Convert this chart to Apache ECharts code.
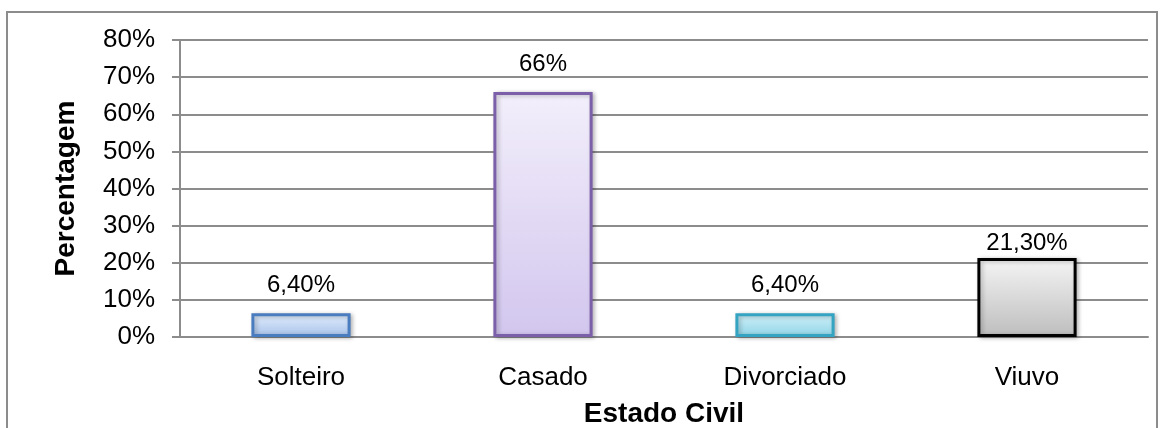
<!DOCTYPE html>
<html>
<head>
<meta charset="utf-8">
<script src="https://cdn.jsdelivr.net/npm/echarts@6/dist/echarts.min.js"></script>
<style>
  html, body { margin: 0; padding: 0; background: #fff; }
  #chart { width: 1164px; height: 428px; }
</style>
</head>
<body>
<div id="chart"></div>
<script>
const categories = ["Solteiro", "Casado", "Divorciado", "Viuvo"];
const values = [6.4, 66, 6.4, 21.3];
const valueLabels = ["6,40%", "66%", "6,40%", "21,30%"];

// per-bar look: border, top fill, bottom fill
const barStyles = [
  { border: "#4a7cc0", top: "#e3eefd", bottom: "#a7c2ea" },
  { border: "#7b5fa9", top: "#f3effb", bottom: "#d2c6ee" },
  { border: "#35a4c2", top: "#d2f1f9", bottom: "#8fd4e7" },
  { border: "#000000", top: "#f5f5f5", bottom: "#bdbdbd" },
];
const labelGaps = [16, 16, 16, 3];

const chart = echarts.init(document.getElementById("chart"));
const font = "Liberation Sans, Arial, sans-serif";

chart.setOption({
  animation: false,
  backgroundColor: "#fff",
  graphic: [
    {
      type: "rect",
      shape: { x: 7, y: 12, width: 1150, height: 430 },
      style: { fill: "none", stroke: "#8c8c8c", lineWidth: 2 },
      silent: true,
    },
  ],
  grid: { left: 180, right: 16, top: 40, bottom: 91, containLabel: false, outerBoundsMode: "none" },
  xAxis: {
    type: "category",
    data: categories,
    name: "Estado Civil",
    nameLocation: "middle",
    nameGap: 63,
    nameTextStyle: { fontFamily: font, fontSize: 28, fontWeight: "bold", color: "#000" },
    axisLine: { lineStyle: { color: "#8c8c8c", width: 2 } },
    axisTick: { show: false },
    axisLabel: { fontFamily: font, fontSize: 26, color: "#000", margin: 28 },
  },
  yAxis: {
    type: "value",
    min: 0,
    max: 80,
    interval: 10,
    name: "Percentagem",
    nameLocation: "middle",
    nameGap: 100,
    nameTextStyle: { fontFamily: font, fontSize: 28, fontWeight: "bold", color: "#000" },
    axisLine: { show: true, lineStyle: { color: "#8c8c8c", width: 2 } },
    axisTick: { show: true, length: 8, lineStyle: { color: "#8c8c8c", width: 2 } },
    axisLabel: { fontFamily: font, fontSize: 26, color: "#000", margin: 25, formatter: "{value}%" },
    splitLine: { lineStyle: { color: "#8c8c8c", width: 2 } },
  },
  series: [
    {
      type: "bar",
      barWidth: "41%",
      data: values.map((v, i) => ({
        value: v,
        itemStyle: {
          color: {
            type: "linear", x: 0, y: 0, x2: 0, y2: 1,
            colorStops: [
              { offset: 0, color: barStyles[i].top },
              { offset: 1, color: barStyles[i].bottom },
            ],
          },
          borderColor: barStyles[i].border,
          borderWidth: 3,
          shadowColor: "rgba(0,0,0,0.25)",
          shadowBlur: 4,
          shadowOffsetX: 2,
          shadowOffsetY: 1,
        },
        label: { distance: labelGaps[i] },
      })),
      label: {
        show: true,
        position: "top",
        fontFamily: font,
        fontSize: 24,
        color: "#000",
        formatter: (p) => valueLabels[p.dataIndex],
      },
    },
  ],
});
</script>
</body>
</html>
